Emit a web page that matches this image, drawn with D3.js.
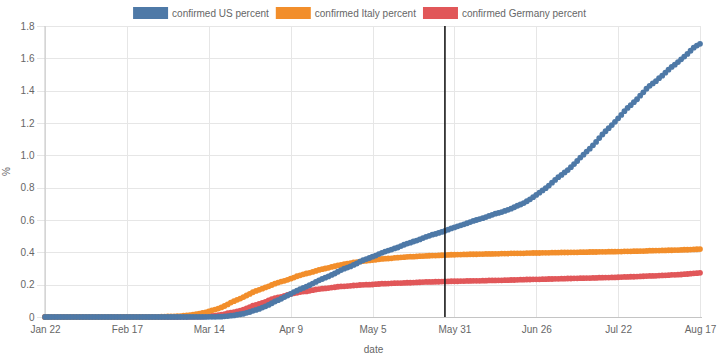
<!DOCTYPE html>
<html><head><meta charset="utf-8">
<script src="https://cdn.jsdelivr.net/npm/d3@7"></script>
<style>
body{margin:0;background:#fff;}
text{font-family:"Liberation Sans",Arial,Helvetica,sans-serif;}
</style>
</head><body>
<svg id="chart" width="720" height="360"></svg>
<script>
// ---- data ----
const seriesNames = ["confirmed US percent", "confirmed Italy percent", "confirmed Germany percent"];
const seriesColors = ["#4e79a7", "#f28e2b", "#e15759"];
const startDate = "2020-01-22";
const endDate = "2020-08-17";
const markerDate = "2020-05-28";
const xTickDates = ["2020-01-22","2020-02-17","2020-03-14","2020-04-09","2020-05-05","2020-05-31","2020-06-26","2020-07-22","2020-08-17"];
const xTickLabels = ["Jan 22","Feb 17","Mar 14","Apr 9","May 5","May 31","Jun 26","Jul 22","Aug 17"];
const yTicks = [0, 0.2, 0.4, 0.6, 0.8, 1.0, 1.2, 1.4, 1.6, 1.8];
const yTickLabels = ["0","0.2","0.4","0.6","0.8","1.0","1.2","1.4","1.6","1.8"];
const xLabel = "date";
const yLabel = "%";

const usPercent = [
 0,0,0,0,0,0,0,0,0,0,
 0,0,0,0,0,0,0,0,0,0,0,0,0,0,0,0,0,0,0,0,0,0,0,0,0,0,0,0,0,
 0,0,0,0,0,0.0001,0.0001,0.0002,0.0002,0.0003,0.0004,0.0005,0.0007,
 0.001,0.001,0.001,0.002,0.002,0.004,0.006,0.008,0.010,0.014,0.017,0.020,0.026,0.031,0.038,0.044,0.050,0.058,
 0.066,0.075,0.085,0.096,0.104,0.113,0.123,0.133,0.143,0.154,
 0.163,0.172,0.180,0.188,0.197,0.207,0.217,0.227,0.235,0.243,
 0.251,0.260,0.269,0.280,0.290,0.299,0.306,0.313,0.322,0.331,
 0.342,0.351,0.358,0.365,0.373,0.380,0.389,0.397,0.405,0.411,
 0.417,0.424,0.430,0.439,0.447,0.454,0.460,0.467,0.473,0.480,
 0.488,0.496,0.502,0.509,0.514,0.520,0.526,0.533,0.540,0.548,0.554,
 0.561,0.567,0.573,0.580,0.587,0.594,0.600,0.606,0.611,0.618,
 0.625,0.632,0.639,0.644,0.649,0.656,0.663,0.670,0.679,0.688,
 0.696,0.705,0.716,0.728,0.741,0.755,0.769,0.783,0.797,0.813,
 0.831,0.848,0.865,0.879,0.894,0.909,0.927,0.946,0.965,0.986,
 1.004,1.023,1.041,1.062,1.083,1.107,1.129,1.149,1.168,1.187,
 1.207,1.229,1.250,1.273,1.293,1.310,1.329,1.347,1.369,1.390,1.412,
 1.430,1.445,1.459,1.477,1.493,1.511,1.530,1.547,1.561,1.577,
 1.594,1.611,1.627,1.647,1.666,1.679,1.690
];

const italyPercent = [
 0,0,0,0,0,0,0,0,0,0,
 0,0,0,0,0,0,0,0,0,0,0,0,0,0,0,0,0,0,0,0,
 0.00003,0.0001,0.0003,0.0004,0.0005,0.0007,0.0011,0.0015,0.0019,
 0.003,0.003,0.004,0.005,0.006,0.008,0.010,0.012,0.015,0.017,
 0.021,0.025,0.029,0.035,0.041,0.046,0.052,0.059,0.068,0.078,
 0.089,0.098,0.106,0.114,0.123,0.133,0.143,0.153,0.161,0.168,0.175,
 0.183,0.190,0.198,0.206,0.213,0.219,0.224,0.230,0.237,0.244,
 0.252,0.258,0.264,0.269,0.273,0.279,0.285,0.291,0.296,0.300,
 0.304,0.310,0.314,0.319,0.323,0.327,0.330,0.333,0.337,0.340,
 0.343,0.346,0.348,0.350,0.352,0.354,0.357,0.359,0.361,0.362,
 0.363,0.366,0.367,0.369,0.370,0.372,0.373,0.373,0.375,0.376,
 0.377,0.378,0.379,0.380,0.380,0.381,0.382,0.383,0.384,0.385,0.385,
 0.386,0.386,0.387,0.387,0.388,0.388,0.388,0.389,0.389,0.390,
 0.390,0.390,0.391,0.391,0.392,0.392,0.392,0.393,0.393,0.394,
 0.394,0.394,0.395,0.395,0.396,0.396,0.396,0.397,0.397,0.397,
 0.398,0.398,0.398,0.399,0.399,0.399,0.400,0.400,0.400,0.401,
 0.401,0.401,0.402,0.402,0.402,0.403,0.403,0.403,0.404,0.404,
 0.404,0.405,0.405,0.406,0.406,0.406,0.407,0.407,0.408,0.408,0.409,
 0.410,0.410,0.411,0.411,0.412,0.412,0.413,0.413,0.414,0.414,
 0.415,0.416,0.416,0.417,0.418,0.419,0.420
];

const germanyPercent = [
 0,0,0,0,0,0,0,0,0,0,
 0,0,0,0,0,0,0,0,0,0,0,0,0,0,0,0,0,0,0,0,0,0,0,0,0,0,0,0,0,
 0.000,0.000,0.000,0.000,0.001,0.001,0.001,0.001,0.001,0.002,
 0.002,0.003,0.004,0.006,0.007,0.009,0.011,0.015,0.018,0.024,
 0.027,0.030,0.035,0.040,0.045,0.053,0.061,0.070,0.075,0.081,0.087,
 0.094,0.102,0.110,0.116,0.121,0.125,0.130,0.137,0.142,0.147,
 0.150,0.154,0.157,0.158,0.162,0.166,0.170,0.173,0.175,0.177,
 0.179,0.182,0.184,0.187,0.189,0.190,0.191,0.193,0.195,0.196,
 0.198,0.199,0.200,0.200,0.201,0.203,0.204,0.206,0.206,0.207,
 0.208,0.209,0.210,0.210,0.211,0.212,0.212,0.213,0.214,0.215,
 0.216,0.217,0.217,0.217,0.218,0.218,0.219,0.220,0.220,0.221,0.221,
 0.221,0.222,0.222,0.223,0.223,0.224,0.224,0.224,0.225,0.225,
 0.226,0.226,0.226,0.227,0.227,0.228,0.228,0.229,0.229,0.230,
 0.231,0.231,0.232,0.232,0.233,0.233,0.233,0.234,0.234,0.235,
 0.235,0.236,0.236,0.237,0.237,0.238,0.238,0.239,0.239,0.240,
 0.240,0.241,0.241,0.242,0.242,0.243,0.243,0.244,0.244,0.245,
 0.245,0.246,0.247,0.248,0.248,0.249,0.249,0.250,0.251,0.252,0.253,
 0.254,0.254,0.255,0.256,0.257,0.258,0.259,0.261,0.261,0.262,
 0.263,0.265,0.266,0.268,0.270,0.271,0.273
];

// ---- layout ----
const W = 720, H = 360;
const plot = {left: 45, right: 700, top: 26, bottom: 317};
const svg = d3.select("#chart");
const parse = d3.utcParse("%Y-%m-%d");
const dates = d3.utcDay.range(parse(startDate), d3.utcDay.offset(parse(endDate), 1));
const seriesValues = [usPercent, italyPercent, germanyPercent];

const x = d3.scaleUtc().domain([parse(startDate), parse(endDate)]).range([plot.left, plot.right]);
const y = d3.scaleLinear().domain([0, 1.8]).range([plot.bottom, plot.top]);

const gridColor = "#e6e6e6";
const axisColor = "#c4c4c4";
const textColor = "#666";

// grid: horizontal
svg.append("g").selectAll("line").data(yTicks).join("line")
  .attr("x1", plot.left - 8).attr("x2", plot.right + 1)
  .attr("y1", d => Math.round(y(d)) + 0.5).attr("y2", d => Math.round(y(d)) + 0.5)
  .attr("stroke", gridColor).attr("stroke-width", 1);
// grid: vertical
svg.append("g").selectAll("line").data(xTickDates).join("line")
  .attr("x1", d => Math.round(x(parse(d))) + 0.5).attr("x2", d => Math.round(x(parse(d))) + 0.5)
  .attr("y1", plot.top).attr("y2", plot.bottom)
  .attr("stroke", gridColor).attr("stroke-width", 1);

// axes via d3
const xAxis = d3.axisBottom(x).tickValues(xTickDates.map(parse))
  .tickFormat((d, i) => xTickLabels[i]).tickSize(0).tickPadding(9);
const gx = svg.append("g").attr("transform", `translate(0,${plot.bottom})`).call(xAxis);
gx.select(".domain").attr("stroke", axisColor).attr("d", `M${plot.left - 0.5},0.5H${plot.right + 2}`);
gx.selectAll("text").attr("fill", textColor).attr("font-size", 10);

const yAxis = d3.axisLeft(y).tickValues(yTicks)
  .tickFormat((d, i) => yTickLabels[i]).tickSize(0).tickPadding(10);
const gy = svg.append("g").attr("transform", `translate(${plot.left - 0.5},0)`).call(yAxis);
gy.select(".domain").attr("stroke", axisColor).attr("d", `M0.5,${plot.top}V${plot.bottom + 0.5}`);
gy.selectAll("text").attr("fill", textColor).attr("font-size", 10);

// axis titles
svg.append("text").attr("x", (plot.left + plot.right) / 2 + 1).attr("y", 353)
  .attr("text-anchor", "middle").attr("font-size", 10).attr("fill", textColor).text(xLabel);
svg.append("text").attr("transform", `translate(10,${(plot.top + plot.bottom) / 2}) rotate(-90)`)
  .attr("text-anchor", "middle").attr("font-size", 10).attr("fill", textColor).text(yLabel);

// series (drawn last-to-first so US on top)
const line = d3.line().x((d, i) => x(dates[i])).y(d => y(d));
for (let s = seriesValues.length - 1; s >= 0; s--) {
  const g = svg.append("g");
  g.append("path").datum(seriesValues[s]).attr("d", line)
    .attr("fill", "none").attr("stroke", seriesColors[s]).attr("stroke-width", 2);
  g.selectAll("circle").data(seriesValues[s]).join("circle")
    .attr("cx", (d, i) => x(dates[i])).attr("cy", d => y(d)).attr("r", 2.9)
    .attr("fill", seriesColors[s]);
}

// marker line
svg.append("line")
  .attr("x1", x(parse(markerDate))).attr("x2", x(parse(markerDate)))
  .attr("y1", plot.top).attr("y2", plot.bottom)
  .attr("stroke", "#1a1a1a").attr("stroke-width", 1.6);

// legend
const legend = svg.append("g");
const items = legend.selectAll("g").data(seriesNames).join("g");
items.append("rect").attr("width", 35).attr("height", 12).attr("y", 7)
  .attr("fill", (d, i) => seriesColors[i]);
items.append("text").attr("x", 39).attr("y", 16.5).attr("font-size", 10)
  .attr("fill", textColor).text(d => d);
const widths = [];
items.each(function() { widths.push(39 + d3.select(this).select("text").node().getComputedTextLength()); });
const gap = 7;
const total = d3.sum(widths) + gap * (widths.length - 1);
let cx = 359.5 - total / 2;
items.attr("transform", (d, i) => { const t = `translate(${cx},0)`; cx += widths[i] + gap; return t; });
</script>
</body></html>
